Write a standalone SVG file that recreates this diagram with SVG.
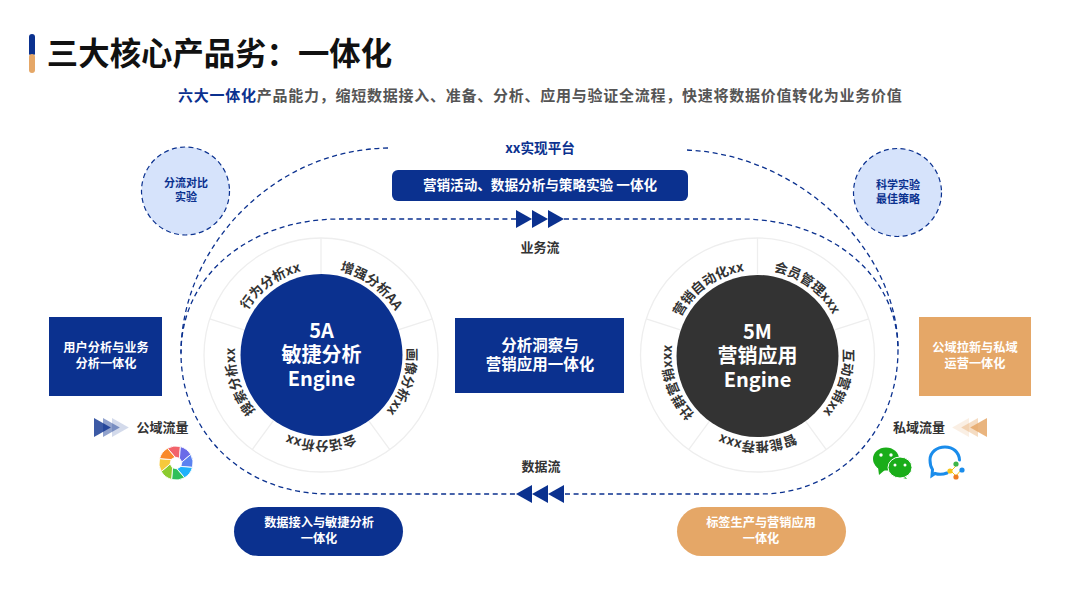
<svg xmlns="http://www.w3.org/2000/svg" width="1080" height="608" viewBox="0 0 1080 608">
<style>
text{font-family:"Noto Sans CJK SC","Noto Sans",sans-serif;font-weight:700;text-anchor:middle}
.navy{fill:#0B318F}.org{fill:#E5A767}.w{fill:#fff}.dk{fill:#333}
.dash{fill:none;stroke:#0B318F;stroke-width:1.3;stroke-dasharray:5 3.6}
.bub{fill:#D6E3FB;stroke:#0B318F;stroke-width:1.2;stroke-dasharray:5 3.4}
.ring{fill:#fff;stroke:#eeeeee;stroke-width:1.3}
.div{stroke:#eeeeee;stroke-width:1.3}
.rl{font-size:13.3px;fill:#333}
.eng{font-size:20px;fill:#fff}
.s11{font-size:11px}.s12{font-size:12.2px}.s13{font-size:13px}.s135{font-size:13.6px}.s15{font-size:15.5px}
</style>
<defs>
<path id="pL" d="M321,269A86,86 0 1 1 321,441A86,86 0 1 1 321,269"/>
<path id="pR" d="M757.500,270A86,86 0 1 1 757.500,442A86,86 0 1 1 757.500,270"/>
<path id="tri" d="M0,-9L16,0L0,9Z"/>
<path id="blade" d="M0,-6L-5.800,-16A17,17 0 0 1 7.200,-15.400L4.200,-4.200Z" stroke="#fff" stroke-width="0.8"/>
</defs>

<g id="title">
<rect x="29" y="34" width="6" height="22" rx="3" class="navy"/>
<rect x="29" y="54" width="6" height="19" rx="3" class="org"/>
<rect x="29" y="52" width="6" height="2" class="navy"/>
<text x="219.500" y="65" style="font-size:31.400px" fill="#111">三大核心产品劣：一体化</text>
</g>
<g id="subtitle">
<text x="178" y="101" style="font-size:15px;letter-spacing:.75px;text-anchor:start" fill="#555"><tspan class="navy">六大一体化</tspan>产品能力，缩短数据接入、准备、分析、应用与验证全流程，快速将数据价值转化为业务价值</text>
</g>

<g id="connectors">
<path class="dash" d="M388,148C270,150 181,250 181,353"/>
<path class="dash" d="M687,150C800,155 898,250 898,350"/>
<path class="dash" d="M516,219L340,219C250,219 181,275 181,353C181,430 240,494 330,494L516,494"/>
<path class="dash" d="M564,219L740,219C830,219 898,275 898,350C898,430 840,494 760,494L564,494"/>
<g class="navy">
<use href="#tri" x="516" y="219"/><use href="#tri" x="532" y="219"/><use href="#tri" x="548" y="219"/>
<use href="#tri" transform="translate(532,494) scale(-1,1)"/><use href="#tri" transform="translate(548,494) scale(-1,1)"/><use href="#tri" transform="translate(564,494) scale(-1,1)"/>
</g>
</g>

<g id="platform-label"><text x="540" y="153" class="s135 navy">xx实现平台</text></g>
<g id="platform-bar">
<rect x="392" y="170" width="296" height="31" rx="6" class="navy"/>
<text x="540" y="190" class="s135 w">营销活动、数据分析与策略实验 一体化</text>
</g>
<g id="flow-business"><text x="540" y="252" class="s13 dk">业务流</text></g>
<g id="flow-data"><text x="541" y="471" class="s13 dk">数据流</text></g>

<g id="bubble-left">
<circle cx="185.500" cy="191" r="44" class="bub"/>
<text x="186" y="187" class="s11 navy">分流对比</text>
<text x="186" y="201" class="s11 navy">实验</text>
</g>
<g id="bubble-right">
<circle cx="897.500" cy="192.500" r="44" class="bub"/>
<text x="898" y="189" class="s11 navy">科学实验</text>
<text x="898" y="203" class="s11 navy">最佳策略</text>
</g>

<g id="box-left">
<rect x="49" y="317" width="113" height="79" class="navy"/>
<text x="106" y="352" class="s12 w">用户分析与业务</text>
<text x="106" y="368" class="s12 w">分析一体化</text>
</g>
<g id="box-center">
<rect x="455" y="318" width="169" height="75" class="navy"/>
<text x="540" y="351" class="s15 w">分析洞察与</text>
<text x="540" y="370" class="s15 w">营销应用一体化</text>
</g>
<g id="box-right">
<rect x="919" y="317" width="112" height="79" class="org"/>
<text x="975" y="352" class="s12 w">公域拉新与私域</text>
<text x="975" y="368" class="s12 w">运营一体化</text>
</g>

<g id="engine-5a">
<circle cx="321" cy="355" r="117" class="ring"/>
<g class="div" transform="translate(321,355)">
<path d="M0,-81V-117" transform="rotate(0)"/><path d="M0,-81V-117" transform="rotate(72)"/><path d="M0,-81V-117" transform="rotate(144)"/><path d="M0,-81V-117" transform="rotate(216)"/><path d="M0,-81V-117" transform="rotate(288)"/>
</g>
<circle cx="321.500" cy="355" r="81" class="navy"/>
<text x="321.500" y="338" class="eng">5A</text>
<text x="321.500" y="362" class="eng">敏捷分析</text>
<text x="321.500" y="386" class="eng">Engine</text>
<text class="rl"><textPath href="#pL" startOffset="10%">增强分析AA</textPath></text>
<text class="rl"><textPath href="#pL" startOffset="30%">画像分析xx</textPath></text>
<text class="rl"><textPath href="#pL" startOffset="50%">会话分析xx</textPath></text>
<text class="rl"><textPath href="#pL" startOffset="70%">搜索分析xx</textPath></text>
<text class="rl"><textPath href="#pL" startOffset="90%">行为分析xx</textPath></text>
</g>

<g id="engine-5m">
<circle cx="757.500" cy="355" r="117" class="ring"/>
<g class="div" transform="translate(757.500,355)">
<path d="M0,-81V-117" transform="rotate(0)"/><path d="M0,-81V-117" transform="rotate(72)"/><path d="M0,-81V-117" transform="rotate(144)"/><path d="M0,-81V-117" transform="rotate(216)"/><path d="M0,-81V-117" transform="rotate(288)"/>
</g>
<circle cx="757.500" cy="356" r="81" fill="#333"/>
<text x="757.500" y="339" class="eng">5M</text>
<text x="757.500" y="363" class="eng">营销应用</text>
<text x="757.500" y="387" class="eng">Engine</text>
<text class="rl"><textPath href="#pR" startOffset="10%">会员管理xxx</textPath></text>
<text class="rl"><textPath href="#pR" startOffset="30%">互动营销xx</textPath></text>
<text class="rl"><textPath href="#pR" startOffset="50%">智能推荐xxx</textPath></text>
<text class="rl"><textPath href="#pR" startOffset="70%">社群营销xxx</textPath></text>
<text class="rl"><textPath href="#pR" startOffset="90%">营销自动化xx</textPath></text>
</g>

<g id="pill-left">
<rect x="234" y="507" width="169" height="49" rx="24.500" class="navy"/>
<text x="319" y="527" class="s12 w">数据接入与敏捷分析</text>
<text x="319" y="543" class="s12 w">一体化</text>
</g>
<g id="pill-right">
<rect x="677" y="507" width="169" height="49" rx="24.500" class="org"/>
<text x="761" y="527" class="s12 w">标签生产与营销应用</text>
<text x="761" y="543" class="s12 w">一体化</text>
</g>

<g id="public-traffic">
<g fill="#0B318F">
<use href="#tri" transform="translate(112,427.500) scale(1.05)" opacity=".18"/>
<use href="#tri" transform="translate(103,427.500) scale(1.05)" opacity=".45"/>
<use href="#tri" transform="translate(94,427.500) scale(1.05)" opacity=".8"/>
</g>
<text x="162.500" y="432" class="s13 dk">公域流量</text>
<g transform="translate(176,463)">
<use href="#blade" fill="#F2636B" transform="rotate(-10)"/>
<use href="#blade" fill="#6A6BE8" transform="rotate(35)"/>
<use href="#blade" fill="#5B82F0" transform="rotate(80)"/>
<use href="#blade" fill="#1EB1FB" transform="rotate(125)"/>
<use href="#blade" fill="#2FBF5A" transform="rotate(170)"/>
<use href="#blade" fill="#8CCB2E" transform="rotate(215)"/>
<use href="#blade" fill="#F7C93C" transform="rotate(260)"/>
<use href="#blade" fill="#F98A2B" transform="rotate(305)"/>
</g>
</g>

<g id="private-traffic">
<text x="919" y="432" class="s13 dk">私域流量</text>
<g fill="#E5A767">
<use href="#tri" transform="translate(969,427.500) scale(-1.05,1.05)" opacity=".18"/>
<use href="#tri" transform="translate(978,427.500) scale(-1.05,1.05)" opacity=".4"/>
<use href="#tri" transform="translate(987,427.500) scale(-1.05,1.05)" opacity=".85"/>
</g>
<g id="wechat">
<path d="M878,467L879,475L886,469Z" fill="#1AAD19"/>
<ellipse cx="886" cy="459" rx="13" ry="11.500" fill="#1AAD19"/>
<circle cx="881" cy="455" r="1.700" fill="#fff"/><circle cx="891" cy="455" r="1.700" fill="#fff"/>
<path d="M904,475L907,479L899,477Z" fill="#1AAD19"/>
<ellipse cx="900" cy="467.500" rx="12" ry="10.500" fill="#1AAD19" stroke="#fff" stroke-width="1"/>
<circle cx="895" cy="465" r="1.500" fill="#fff"/><circle cx="905" cy="465" r="1.500" fill="#fff"/>
</g>
<g id="wecom">
<path d="M947,473C942,475 938,474.500 935,473.500L932,475.500L932.500,469.500C930.500,466.500 930,463 930,460C930,452 937,447 945,447C953,447 959,452 959.500,460" fill="none" stroke="#1A8CEB" stroke-width="3" stroke-linecap="round"/>
<path d="M956,464L950,471L956,477L962,470Z" fill="none" stroke="#fff" stroke-width="2"/>
<path d="M957,465L951,471M951,471L956,476M956,476L961,470" fill="none" stroke="#F5C518" stroke-width="1"/>
<circle cx="956" cy="464" r="2.600" fill="#3DB54A"/>
<circle cx="950" cy="471" r="2.600" fill="#F5C518"/>
<circle cx="956" cy="477" r="2.600" fill="#EF7C22"/>
<circle cx="962" cy="470" r="2.600" fill="#1A8CEB"/>
</g>
</g>
</svg>
